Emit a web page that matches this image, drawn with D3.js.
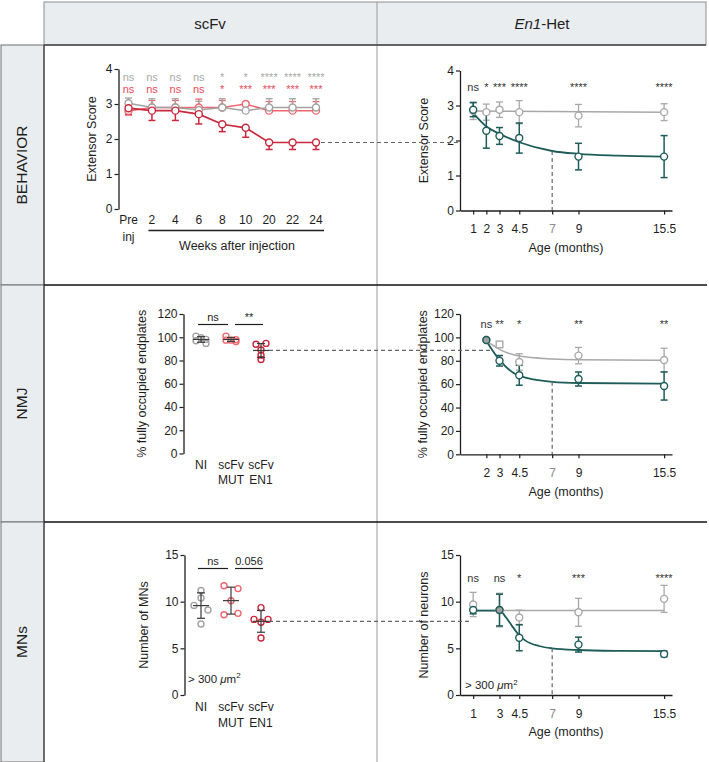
<!DOCTYPE html>
<html>
<head>
<meta charset="utf-8">
<script src="https://cdn.jsdelivr.net/npm/d3@7"></script>
<style>
  body { margin: 0; background: #fff; }
  svg { display: block; font-family: "Liberation Sans", Arial, Helvetica, sans-serif; }
</style>
</head>
<body>
<svg id="fig"></svg>
<script>
// ---- values ----
// behaviour, scFv injection (weeks)
const weekLabels = ["Pre", "2", "4", "6", "8", "10", "20", "22", "24"];
const behNI     = [3.02, 2.9, 2.9, 2.83, 2.9, 2.81, 2.9, 2.9, 2.9];
const behNIErr  = [0.15, 0.25, 0.25, 0.25, 0.25, 0.22, 0.25, 0.25, 0.25];
const behMUT    = [2.8, 2.9, 2.9, 2.9, 2.9, 3.0, 2.81, 2.81, 2.81];
const behMUTErr = [0.22, 0.2, 0.2, 0.24, 0.2, 0.06, 0.26, 0.26, 0.26];
const behEN1    = [2.88, 2.81, 2.81, 2.71, 2.42, 2.32, 1.9, 1.9, 1.9];
const behEN1Err = [0.19, 0.28, 0.28, 0.28, 0.21, 0.27, 0.2, 0.2, 0.2];
const behSigGray = ["ns", "ns", "ns", "ns", "*", "*", "****", "****", "****"];
const behSigRed  = ["ns", "ns", "ns", "ns", "*", "***", "***", "***", "***"];

// behaviour, En1-Het (months)
const behAges   = [1, 2, 3, 4.5, 9, 15.5];
const behWT     = [2.85, 2.81, 2.88, 2.81, 2.71, 2.81];
const behWTErr  = [0.25, 0.23, 0.22, 0.33, 0.32, 0.24];
const behHet    = [2.88, 2.28, 2.13, 2.07, 1.54, 1.54];
const behHetErr = [0.2, 0.5, 0.24, 0.43, 0.38, 0.6];
const behWTFit  = [[1, 2.84], [15.5, 2.81]];
const behHetFit = [[1, 2.78], [2, 2.4], [3, 2.19], [4.5, 1.95], [7, 1.7], [9, 1.62], [12, 1.57], [15.5, 1.54]];
const behAgeSig = ["ns", "*", "***", "****", "****", "****"];
const behAgeTicks = [1, 2, 3, 4.5, 7, 9, 15.5];

// NMJ
const groupNames  = ["NI", "scFv MUT", "scFv EN1"];
const groupLabels = [["NI"], ["scFv", "MUT"], ["scFv", "EN1"]];
const nmjNI  = [101, 99.6, 98.2, 97, 94.7];
const nmjMUT = [101, 97.5, 98, 97.5, 96.4];
const nmjEN1 = [94, 94.7, 89, 84.6, 80.9];
const nmjGroupSig = ["ns", "**"];

const nmjAges   = [2, 3, 4.5, 9, 15.5];
const nmjWT     = [97.8, 94, 79, 84.4, 80.7];
const nmjWTErr  = [0, 0, 7, 7, 10];
const nmjWTMark = ["circle", "square", "circle", "circle", "circle"];
const nmjHet    = [97.8, 80, 67.6, 64.4, 58.4];
const nmjHetErr = [0, 4.5, 8.5, 6, 12];
const nmjWTFit  = [[2, 97], [3, 89.8], [4.5, 84], [7, 81.5], [9, 80.8], [15.5, 80.5]];
const nmjHetFit = [[2, 97], [3, 80.7], [4.5, 67], [7, 62], [9, 61], [15.5, 60.5]];
const nmjAgeSig = ["ns", "**", "*", "**", "**"];
const nmjAgeTicks = [2, 3, 4.5, 7, 9, 15.5];
const nmjDashEnd = 2.3;

// MNs
const mnNI  = [11.2, 10.4, 9.6, 9.1, 7.6];
const mnMUT = [11.7, 11.4, 10.1, 8.6, 8.75];
const mnEN1 = [9.36, 8.1, 7.8, 8.1, 6.1];
const mnGroupSig = ["ns", "0.056"];

const mnAges   = [1, 3, 4.5, 9, 15.5];
const mnWT     = [9.7, 9.1, 8.3, 8.86, 10.3];
const mnWTErr  = [1.3, 1.8, 0.8, 1.5, 1.45];
const mnHet    = [9.1, 9.1, 6.14, 5.4, 4.4];
const mnHetErr = [0.4, 1.7, 1.4, 0.8, 0.3];
const mnWTFit  = [[1, 9.05], [15.5, 9.05]];
const mnHetFit = [[1, 9.05], [3, 9.05], [3.5, 8.3], [4, 7.3], [4.5, 6.4], [5, 5.8], [6, 5.25], [7, 5.0], [9, 4.82], [12, 4.73], [15.5, 4.7]];
const mnAgeSig = ["ns", "ns", "*", "***", "****"];
const mnAgeTicks = [1, 3, 4.5, 7, 9, 15.5];
const mnDashEnd = 0.75;

// ---- setup ----
const svg = d3.select("#fig").attr("width", 709).attr("height", 762);
const ink = "#1e1e1e";
const col = {
  ni: "#a2a2a2", mut: "#f0666f", en1: "#c9283c", teal: "#1d5c58", wt: "#a8a8a8",
  sigGray: "#a9a9a9", sigRed: "#e84a55", dash: "#666", frame: "#eaedef"
};

// ---- frame ----
svg.append("rect").attr("x", 44).attr("y", 2).attr("width", 662).attr("height", 43)
  .attr("fill", col.frame).attr("stroke", "#8e8e8e");
svg.append("line").attr("x1", 377).attr("x2", 377).attr("y1", 2).attr("y2", 762)
  .attr("stroke", "#9a9a9a").attr("stroke-width", 1);
svg.append("text").attr("x", 210).attr("y", 24).attr("dy", "0.35em").attr("text-anchor", "middle")
  .attr("font-size", 15).attr("fill", ink).text("scFv");
const hdr = svg.append("text").attr("x", 542).attr("y", 24).attr("dy", "0.35em").attr("text-anchor", "middle")
  .attr("font-size", 15).attr("fill", ink);
hdr.append("tspan").attr("font-style", "italic").text("En1");
hdr.append("tspan").text("-Het");

const rowY = [45, 285, 522, 762];
const rowNames = ["BEHAVIOR", "NMJ", "MNs"];
rowNames.forEach((name, i) => {
  svg.append("rect").attr("x", 1).attr("y", rowY[i]).attr("width", 43).attr("height", rowY[i + 1] - rowY[i])
    .attr("fill", col.frame).attr("stroke", "#6e6e6e");
  svg.append("text").attr("transform", `translate(22,${(rowY[i] + rowY[i + 1]) / 2}) rotate(-90)`)
    .attr("dy", "0.35em").attr("text-anchor", "middle").attr("font-size", 15.5).attr("fill", ink).text(name);
});
svg.append("line").attr("x1", 44).attr("x2", 44).attr("y1", 45).attr("y2", 762).attr("stroke", "#555").attr("stroke-width", 1.5);
svg.append("line").attr("x1", 44).attr("x2", 706).attr("y1", 45).attr("y2", 45).attr("stroke", "#444").attr("stroke-width", 1.3);
[rowY[1], rowY[2]].forEach(yy => {
  svg.append("line").attr("x1", 44).attr("x2", 707).attr("y1", yy).attr("y2", yy).attr("stroke", "#111").attr("stroke-width", 1.5);
});

// ---- helpers ----
function styleAxis(g) {
  g.attr("font-family", null).attr("font-size", 12);
  g.select(".domain").attr("stroke", ink).attr("stroke-width", 1.3);
  g.selectAll(".tick line").attr("stroke", ink).attr("stroke-width", 1.2);
  g.selectAll(".tick text").attr("fill", ink);
}

function yAxis(x0, y, ticks, title, titleX) {
  const g = svg.append("g").attr("transform", `translate(${x0},0)`)
    .call(d3.axisLeft(y).tickValues(ticks).tickSize(4).tickPadding(2).tickSizeOuter(0).tickFormat(d => d));
  styleAxis(g);
  const [a, b] = y.range();
  svg.append("text").attr("transform", `translate(${titleX},${(a + b) / 2}) rotate(-90)`)
    .attr("dy", "0.35em").attr("text-anchor", "middle").attr("font-size", 12.5).attr("fill", ink).text(title);
}

function ageAxis(y0, x, ticks) {
  const g = svg.append("g").attr("transform", `translate(0,${y0})`)
    .call(d3.axisBottom(x).tickValues(ticks).tickSize(4).tickPadding(10).tickSizeOuter(0).tickFormat(d => d));
  styleAxis(g);
  g.selectAll(".tick text").filter(d => d === 7).attr("fill", "#8a8a8a");
  const [a, b] = x.range();
  svg.append("text").attr("x", (a + b) / 2).attr("y", y0 + 37).attr("dy", "0.35em").attr("text-anchor", "middle")
    .attr("font-size", 12.5).attr("fill", ink).text("Age (months)");
}

function errBars(px, vals, errs, y, color, dir, sw) {
  vals.forEach((v, i) => {
    const e = errs[i];
    if (!e) return;
    const hi = dir >= 0 ? v + e : v, lo = dir <= 0 ? v - e : v;
    const x = px(i);
    svg.append("line").attr("x1", x).attr("x2", x).attr("y1", y(hi)).attr("y2", y(lo))
      .attr("stroke", color).attr("stroke-width", sw);
    const caps = [];
    if (dir >= 0) caps.push(hi);
    if (dir <= 0) caps.push(lo);
    caps.forEach(c => svg.append("line").attr("x1", x - 3.5).attr("x2", x + 3.5).attr("y1", y(c)).attr("y2", y(c))
      .attr("stroke", color).attr("stroke-width", sw));
  });
}

function dots(px, vals, y, color, fill, marks) {
  vals.forEach((v, i) => {
    const f = typeof fill === "function" ? fill(i) : fill;
    if (marks && marks[i] === "square") {
      svg.append("rect").attr("x", px(i) - 3.3).attr("y", y(v) - 3.3).attr("width", 6.6).attr("height", 6.6)
        .attr("fill", f).attr("stroke", color).attr("stroke-width", 1.4);
    } else {
      svg.append("circle").attr("cx", px(i)).attr("cy", y(v)).attr("r", 3.5)
        .attr("fill", f).attr("stroke", color).attr("stroke-width", 1.4);
    }
  });
}

function sigRow(labels, px, base, color) {
  labels.forEach((s, i) => {
    svg.append("text").attr("x", px(i)).attr("y", base).attr("text-anchor", "middle")
      .attr("font-size", 11).attr("fill", color).text(s);
  });
}

function dashed(x1, y1, x2, y2) {
  svg.append("line").attr("x1", x1).attr("x2", x2).attr("y1", y1).attr("y2", y2)
    .attr("stroke", col.dash).attr("stroke-width", 1.2).attr("stroke-dasharray", "4,3");
}

function fitLine(pts, x, y, color, sw) {
  svg.append("path").datum(pts)
    .attr("d", d3.line().x(d => x(d[0])).y(d => y(d[1])).curve(d3.curveMonotoneX))
    .attr("fill", "none").attr("stroke", color).attr("stroke-width", sw);
}

function agePanel(o) {
  const px = i => o.x(o.ages[i]);
  fitLine(o.wtFit, o.x, o.y, col.wt, 1.5);
  fitLine(o.hetFit, o.x, o.y, col.teal, 1.8);
  errBars(px, o.wt, o.wtErr, o.y, col.wt, 0, 1.3);
  errBars(px, o.het, o.hetErr, o.y, col.teal, 0, 1.5);
  dots(px, o.wt, o.y, col.wt, "#fff", o.marks);
  dots(px, o.het, o.y, col.teal, i => (o.het[i] === o.wt[i] ? "#a0a0a0" : "#fff"));
  sigRow(o.sig, px, o.sigY, "#333");
  const at7 = o.hetFit.find(d => d[0] === 7);
  dashed(o.x(7), o.y(at7[1]), o.x(7), o.y(0));
}

// scatter with binned horizontal spreading
function spread(vals, y, binH, step) {
  const idx = vals.map((v, i) => i).sort((a, b) => y(vals[a]) - y(vals[b]));
  const off = new Array(vals.length).fill(0);
  let bin = [];
  const flush = () => {
    const members = bin.slice().sort((a, b) => a - b);
    const n = members.length;
    members.forEach((m, k) => {
      if (n % 2) off[m] = (k - (n - 1) / 2) * step;
      else {
        const h = k - n / 2;
        off[m] = (h < 0 ? h : h + 1) * step;
      }
    });
  };
  idx.forEach(i => {
    if (bin.length && y(vals[i]) - y(vals[bin[0]]) > binH) { flush(); bin = []; }
    bin.push(i);
  });
  if (bin.length) flush();
  return off;
}

function groupPanel(o) {
  const sets = [o.ni, o.mut, o.en1];
  const colors = [col.ni, col.mut, col.en1];
  sets.forEach((vals, gi) => {
    const cx = o.x(groupNames[gi]);
    const off = spread(vals, o.y, o.binH, o.step);
    vals.forEach((v, i) => {
      svg.append("circle").attr("cx", cx + off[i]).attr("cy", o.y(v)).attr("r", 3)
        .attr("fill", "none").attr("stroke", colors[gi]).attr("stroke-width", 1.4);
    });
    const m = d3.mean(vals), sd = d3.deviation(vals);
    const ln = (x1, x2, y1, y2) => svg.append("line").attr("x1", x1).attr("x2", x2).attr("y1", y1).attr("y2", y2)
      .attr("stroke", "#3a3a3a").attr("stroke-width", 1.2);
    ln(cx - 8, cx + 8, o.y(m), o.y(m));
    ln(cx, cx, o.y(m + sd), o.y(m - sd));
    ln(cx - 4, cx + 4, o.y(m + sd), o.y(m + sd));
    ln(cx - 4, cx + 4, o.y(m - sd), o.y(m - sd));
  });
  groupLabels.forEach((lines, gi) => {
    lines.forEach((t, li) => {
      svg.append("text").attr("x", o.x(groupNames[gi])).attr("y", o.labelY + li * 15.5)
        .attr("text-anchor", "middle").attr("font-size", 12).attr("fill", ink).text(t);
    });
  });
  // comparison brackets
  const spans = [[o.x(groupNames[0]) - 3, o.x(groupNames[1]) - 3], [o.x(groupNames[1]) + 4, o.x(groupNames[2]) + 2]];
  spans.forEach((s, k) => {
    svg.append("line").attr("x1", s[0]).attr("x2", s[1]).attr("y1", o.brY).attr("y2", o.brY)
      .attr("stroke", ink).attr("stroke-width", 1.2);
    svg.append("text").attr("x", (s[0] + s[1]) / 2).attr("y", o.brY - 3.5).attr("text-anchor", "middle")
      .attr("font-size", 11).attr("fill", ink).text(o.sig[k]);
  });
}

function areaNote(x, y) {
  const t = svg.append("text").attr("x", x).attr("y", y).attr("font-size", 11.5).attr("fill", ink);
  t.append("tspan").text("> 300 ");
  t.append("tspan").attr("font-style", "italic").text("\u03bc");
  t.append("tspan").text("m");
  t.append("tspan").attr("dy", -4.5).attr("font-size", 8).text("2");
}

const xAge = d3.scaleLinear().domain([0, 16.1]).range([460, 672]);

// ---- BEHAVIOR, scFv ----
const xWk = d3.scalePoint().domain(weekLabels).range([128.5, 316]);
const yBehL = d3.scaleLinear().domain([0, 4]).range([209, 69]);
yAxis(118.5, yBehL, [0, 1, 2, 3, 4], "Extensor Score", 92);
const pxW = i => xWk(weekLabels[i]);
const wkLine = vals => d3.line().x((d, i) => pxW(i)).y(d => yBehL(d))(vals);
svg.append("path").attr("d", wkLine(behMUT)).attr("fill", "none").attr("stroke", col.mut).attr("stroke-width", 1.5);
svg.append("path").attr("d", wkLine(behNI)).attr("fill", "none").attr("stroke", col.ni).attr("stroke-width", 1.5);
svg.append("path").attr("d", wkLine(behEN1)).attr("fill", "none").attr("stroke", col.en1).attr("stroke-width", 1.7);
errBars(pxW, behMUT, behMUTErr, yBehL, col.mut, 1, 1.3);
errBars(pxW, behNI, behNIErr, yBehL, col.ni, 1, 1.3);
errBars(pxW, behEN1, behEN1Err, yBehL, col.en1, -1, 1.5);
dots(pxW, behMUT, yBehL, col.mut, "#fff");
dots(pxW, behNI, yBehL, col.ni, "#fff");
dots(pxW, behEN1, yBehL, col.en1, "#fff");
sigRow(behSigGray, pxW, 80.5, col.sigGray);
sigRow(behSigRed, pxW, 93, col.sigRed);
weekLabels.forEach((w, i) => {
  svg.append("text").attr("x", pxW(i)).attr("y", 223.5).attr("text-anchor", "middle")
    .attr("font-size", 12).attr("fill", ink).text(w);
});
svg.append("text").attr("x", pxW(0)).attr("y", 241).attr("text-anchor", "middle")
  .attr("font-size", 12).attr("fill", ink).text("inj");
svg.append("line").attr("x1", pxW(1) - 3.5).attr("x2", pxW(8) + 8).attr("y1", 230.5).attr("y2", 230.5)
  .attr("stroke", ink).attr("stroke-width", 1.3);
svg.append("text").attr("x", (pxW(1) + pxW(8)) / 2 + 3).attr("y", 246).attr("dy", "0.35em").attr("text-anchor", "middle")
  .attr("font-size", 12.5).attr("fill", ink).text("Weeks after injection");

// ---- BEHAVIOR, En1-Het ----
const yBehR = d3.scaleLinear().domain([0, 4]).range([210.5, 70.5]);
yAxis(460, yBehR, [0, 1, 2, 3, 4], "Extensor Score", 424);
ageAxis(210.5, xAge, behAgeTicks);
dashed(pxW(8) + 5, yBehL(behEN1[behEN1.length - 1]), 460, yBehL(behEN1[behEN1.length - 1]));
agePanel({ x: xAge, y: yBehR, ages: behAges, wt: behWT, wtErr: behWTErr, het: behHet, hetErr: behHetErr,
  wtFit: behWTFit, hetFit: behHetFit, sig: behAgeSig, sigY: 91 });

// ---- NMJ, scFv ----
const xGrp = d3.scalePoint().domain(groupNames).range([201, 261]);
const yNmjL = d3.scaleLinear().domain([0, 120]).range([453.5, 314]);
yAxis(183.5, yNmjL, [0, 20, 40, 60, 80, 100, 120], "% fully occupied endplates", 142);
groupPanel({ x: xGrp, y: yNmjL, ni: nmjNI, mut: nmjMUT, en1: nmjEN1, sig: nmjGroupSig,
  binH: 4, step: 5, labelY: 468.5, brY: 324.5 });

// ---- NMJ, En1-Het ----
const yNmjR = d3.scaleLinear().domain([0, 120]).range([454.3, 314]);
yAxis(460, yNmjR, [0, 20, 40, 60, 80, 100, 120], "% fully occupied endplates", 423);
ageAxis(454.3, xAge, nmjAgeTicks);
const nmjMean = d3.mean(nmjEN1);
dashed(xGrp(groupNames[2]) + 8, yNmjL(nmjMean), xAge(nmjDashEnd), yNmjL(nmjMean));
agePanel({ x: xAge, y: yNmjR, ages: nmjAges, wt: nmjWT, wtErr: nmjWTErr, het: nmjHet, hetErr: nmjHetErr,
  wtFit: nmjWTFit, hetFit: nmjHetFit, sig: nmjAgeSig, sigY: 327.5, marks: nmjWTMark });

// ---- MNs, scFv ----
const yMnL = d3.scaleLinear().domain([0, 15]).range([695, 555]);
yAxis(184.5, yMnL, [0, 5, 10, 15], "Number of MNs", 143.5);
groupPanel({ x: xGrp, y: yMnL, ni: mnNI, mut: mnMUT, en1: mnEN1, sig: mnGroupSig,
  binH: 6, step: 7, labelY: 711, brY: 568.5 });
areaNote(188, 682.5);

// ---- MNs, En1-Het ----
const yMnR = d3.scaleLinear().domain([0, 15]).range([695, 555]);
yAxis(460, yMnR, [0, 5, 10, 15], "Number of neurons", 424);
ageAxis(695, xAge, mnAgeTicks);
const mnMean = d3.mean(mnEN1);
dashed(xGrp(groupNames[2]) + 8, yMnL(mnMean), xAge(mnDashEnd), yMnL(mnMean));
agePanel({ x: xAge, y: yMnR, ages: mnAges, wt: mnWT, wtErr: mnWTErr, het: mnHet, hetErr: mnHetErr,
  wtFit: mnWTFit, hetFit: mnHetFit, sig: mnAgeSig, sigY: 581.5 });
areaNote(465, 689);
</script>
</body>
</html>
